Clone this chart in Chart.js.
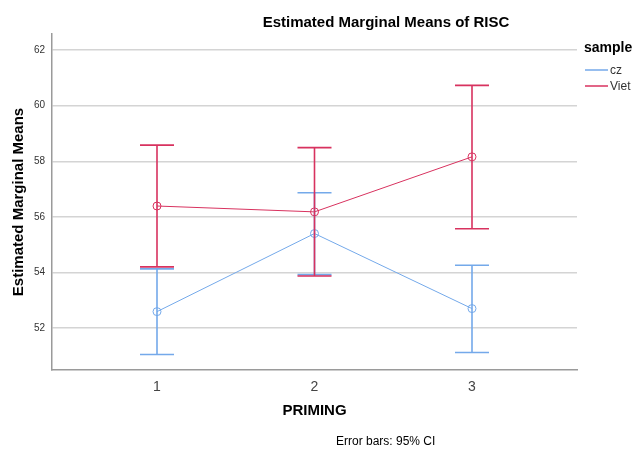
<!DOCTYPE html>
<html>
<head>
<meta charset="utf-8">
<script src="https://cdn.jsdelivr.net/npm/chart.js@4/dist/chart.umd.min.js"></script>
<style>
  html, body { margin: 0; padding: 0; background: #fff; }
  #chart { display: block; }
</style>
</head>
<body>
<canvas id="chart" width="633" height="450"></canvas>
<script>
// values
const priming = [1, 2, 3];
const primingLabels = ['1', '2', '3'];
const yTicks = [52, 54, 56, 58, 60, 62];

const czMean = [52.59, 55.40, 52.70];
const czLow  = [51.05, 53.92, 51.12];
const czHigh = [54.13, 56.87, 54.26];

const vietMean = [56.39, 56.18, 58.16];
const vietLow  = [54.20, 53.87, 55.57];
const vietHigh = [58.58, 58.49, 60.73];

const czColor = '#74a9ea';
const vietColor = '#d8325f';
const font = 'Liberation Sans, Arial, sans-serif';

const toPoints = vals => vals.map((v, i) => ({ x: priming[i], y: v }));

// draws the 95% CI bars and the texts around the plot
const extras = {
    id: 'extras',
    afterDatasetsDraw(chart) {
        const ctx = chart.ctx;
        const xs = chart.scales.x, ys = chart.scales.y;
        const bars = [
            { lo: czLow, hi: czHigh, color: czColor },
            { lo: vietLow, hi: vietHigh, color: vietColor },
        ];
        ctx.save();
        ctx.lineWidth = 1.6;
        bars.forEach(b => {
            ctx.strokeStyle = b.color;
            priming.forEach((p, i) => {
                const x = xs.getPixelForValue(p);
                const yl = ys.getPixelForValue(b.lo[i]);
                const yh = ys.getPixelForValue(b.hi[i]);
                ctx.beginPath();
                ctx.moveTo(x, yl); ctx.lineTo(x, yh);
                ctx.moveTo(x - 17, yl); ctx.lineTo(x + 17, yl);
                ctx.moveTo(x - 17, yh); ctx.lineTo(x + 17, yh);
                ctx.stroke();
            });
        });
        ctx.restore();
    },
    afterDraw(chart) {
        const ctx = chart.ctx;
        ctx.save();
        ctx.fillStyle = '#000';
        ctx.textBaseline = 'middle';

        ctx.font = 'bold 15px ' + font;
        ctx.textAlign = 'center';
        ctx.fillText('Estimated Marginal Means of RISC', 386, 23);

        ctx.font = 'bold 14px ' + font;
        ctx.textAlign = 'left';
        ctx.fillText('sample', 584, 48);

        ctx.font = '12px ' + font;
        ctx.fillStyle = '#333';
        [['cz', czColor, 70], ['Viet', vietColor, 86]].forEach(([t, c, y]) => {
            ctx.strokeStyle = c;
            ctx.lineWidth = 1.5;
            ctx.beginPath();
            ctx.moveTo(585, y); ctx.lineTo(608, y);
            ctx.stroke();
            ctx.fillText(t, 610, y + 1);
        });

        ctx.fillStyle = '#000';
        ctx.textAlign = 'left';
        ctx.fillText('Error bars: 95% CI', 336, 442);
        ctx.restore();
    }
};

new Chart(document.getElementById('chart'), {
    type: 'line',
    data: {
        datasets: [
            {
                label: 'cz',
                data: toPoints(czMean),
                borderColor: czColor,
                backgroundColor: 'transparent',
                borderWidth: 1,
                pointRadius: 4,
                pointBorderWidth: 1,
                pointBackgroundColor: 'transparent',
            },
            {
                label: 'Viet',
                data: toPoints(vietMean),
                borderColor: vietColor,
                backgroundColor: 'transparent',
                borderWidth: 1,
                pointRadius: 4,
                pointBorderWidth: 1,
                pointBackgroundColor: 'transparent',
            },
        ],
    },
    options: {
        responsive: false,
        animation: false,
        layout: { padding: { top: 34, right: 56, bottom: 30, left: 0 } },
        plugins: {
            legend: { display: false },
            tooltip: { enabled: false },
        },
        scales: {
            x: {
                type: 'linear',
                min: 1 - 2 / 3,
                max: 3 + 2 / 3,
                afterBuildTicks: s => { s.ticks = priming.map(v => ({ value: v })); },
                afterFit: s => { s.height = 50; },
                grid: { display: false, drawTicks: false },
                border: { display: true, color: '#9a9a9a', width: 1.5 },
                ticks: {
                    padding: 9,
                    color: '#444',
                    font: { family: font, size: 14 },
                    callback: (v, i) => primingLabels[i],
                },
                title: {
                    display: true,
                    text: 'PRIMING',
                    color: '#000',
                    font: { family: font, size: 15, weight: 'bold' },
                    padding: { top: 0, bottom: 0 },
                },
            },
            y: {
                min: 50.49,
                max: 62.58,
                afterBuildTicks: s => { s.ticks = yTicks.map(v => ({ value: v })); },
                afterFit: s => { s.width = 52; },
                grid: { color: '#d4d4d4', lineWidth: 1.5, drawTicks: false },
                border: { display: true, color: '#9a9a9a', width: 1.5 },
                ticks: {
                    padding: 7,
                    color: '#333',
                    font: { family: font, size: 10 },
                },
                title: {
                    display: true,
                    text: 'Estimated Marginal Means',
                    color: '#000',
                    font: { family: font, size: 15, weight: 'bold' },
                    padding: { top: 10, bottom: 0 },
                },
            },
        },
    },
    plugins: [extras],
});
</script>
</body>
</html>
